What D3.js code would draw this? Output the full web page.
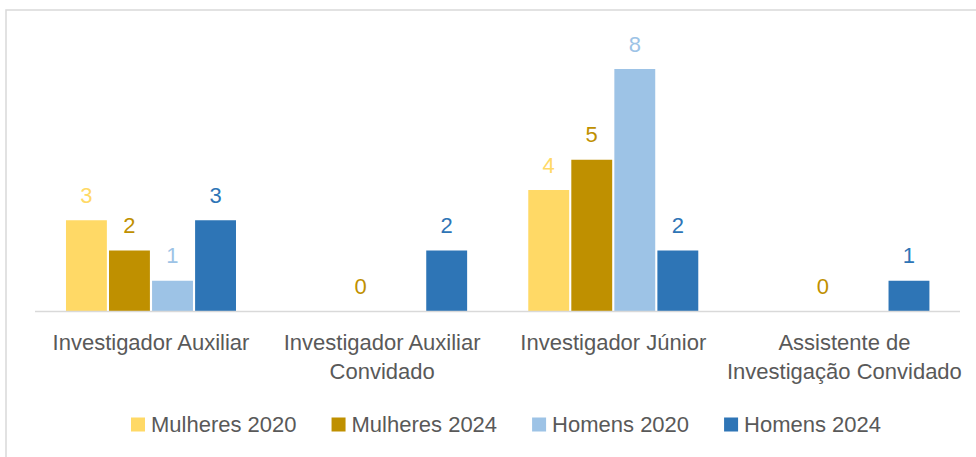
<!DOCTYPE html>
<html>
<head>
<meta charset="utf-8">
<script src="https://cdn.jsdelivr.net/npm/d3@7"></script>
<style>
    body { margin: 0; background: #ffffff; }
    svg.chart text { font-family: "Liberation Sans", Arial, sans-serif; font-size: 22px; }
</style>
</head>
<body>
<svg class="chart"></svg>
<script>

// Chart data. null = no bar and no label.
var categories = [
    ["Investigador Auxiliar"],
    ["Investigador Auxiliar", "Convidado"],
    ["Investigador Júnior"],
    ["Assistente de", "Investigação Convidado"]
];
var seriesNames = ["Mulheres 2020", "Mulheres 2024", "Homens 2020", "Homens 2024"];
var mulheres2020 = [3, null, 4, null];
var mulheres2024 = [2, 0, 5, 0];
var homens2020 = [1, null, 8, null];
var homens2024 = [3, 2, 2, 1];
var seriesColors = ["#FFD966", "#BF9000", "#9DC3E6", "#2E75B6"];

window.onload = function () {

    var width = 976;
    var height = 457;
    var textColor = "#595959";

    var seriesValues = [mulheres2020, mulheres2024, homens2020, homens2024];

    var svgElement = d3.select("svg.chart")
        .attr("width", width)
        .attr("height", height);

    svgElement.append("rect") // Light chart border, the right and bottom edges run off the picture.
        .attr("x", 6)
        .attr("y", 10)
        .attr("width", width + 20)
        .attr("height", height + 20)
        .attr("fill", "none")
        .attr("stroke", "#D9D9D9")
        .attr("stroke-width", 1.5);

    var categoryIndexes = categories.map((c, i) => i);

    var x0 = d3.scaleBand() // One band per category.
        .domain(categoryIndexes)
        .range([35.4, 960])
        .paddingInner(0.2645)
        .paddingOuter(0.1323);

    var x1 = d3.scaleBand() // One bar per series inside a category.
        .domain(seriesNames)
        .range([0, x0.bandwidth()])
        .paddingInner(0.05);

    var y = d3.scaleLinear()
        .domain([0, 9])
        .range([311, 38.75]);

    var bars = [];
    seriesValues.forEach(function (values, seriesIndex) {
        values.forEach(function (value, categoryIndex) {
            if (value === null) return;
            bars.push({ series: seriesNames[seriesIndex], color: seriesColors[seriesIndex], category: categoryIndex, value: value });
        });
    });

    var groups = svgElement.selectAll("g.bar")
        .data(bars)
        .enter()
        .append("g")
        .attr("class", "bar")
        .attr("transform", d => "translate(" + (x0(d.category) + x1(d.series)) + ",0)");

    groups.append("rect")
        .attr("y", d => y(d.value))
        .attr("width", x1.bandwidth())
        .attr("height", d => y(0) - y(d.value))
        .attr("fill", d => d.color);

    groups.append("text") // Data label above each bar, in the bar's colour.
        .attr("x", x1.bandwidth() / 2)
        .attr("y", d => y(d.value) - 17.5)
        .attr("text-anchor", "middle")
        .attr("fill", d => d.color)
        .text(d => d.value);

    svgElement.append("line") // Category axis line.
        .attr("x1", 35)
        .attr("x2", 960)
        .attr("y1", y(0) + 0.5)
        .attr("y2", y(0) + 0.5)
        .attr("stroke", "#D9D9D9")
        .attr("stroke-width", 1.5);

    var labels = svgElement.selectAll("text.category")
        .data(categories)
        .enter()
        .append("text")
        .attr("class", "category")
        .attr("text-anchor", "middle")
        .attr("fill", textColor)
        .attr("transform", (d, i) => "translate(" + (x0(i) + x0.bandwidth() / 2) + ",349.5)");

    labels.selectAll("tspan")
        .data(d => d)
        .enter()
        .append("tspan")
        .attr("x", 0)
        .attr("y", (d, i) => i * 29.5)
        .text(d => d);

    // Legend, laid out left to right from the measured text widths.
    var legendX = 131;
    seriesNames.forEach(function (name, i) {
        svgElement.append("rect")
            .attr("x", legendX)
            .attr("y", 417.5)
            .attr("width", 14)
            .attr("height", 14)
            .attr("fill", seriesColors[i]);

        var label = svgElement.append("text")
            .attr("x", legendX + 20)
            .attr("y", 431.5)
            .attr("fill", textColor)
            .text(name);

        legendX += 20 + label.node().getComputedTextLength() + 35;
    });
};

</script>
</body>
</html>
